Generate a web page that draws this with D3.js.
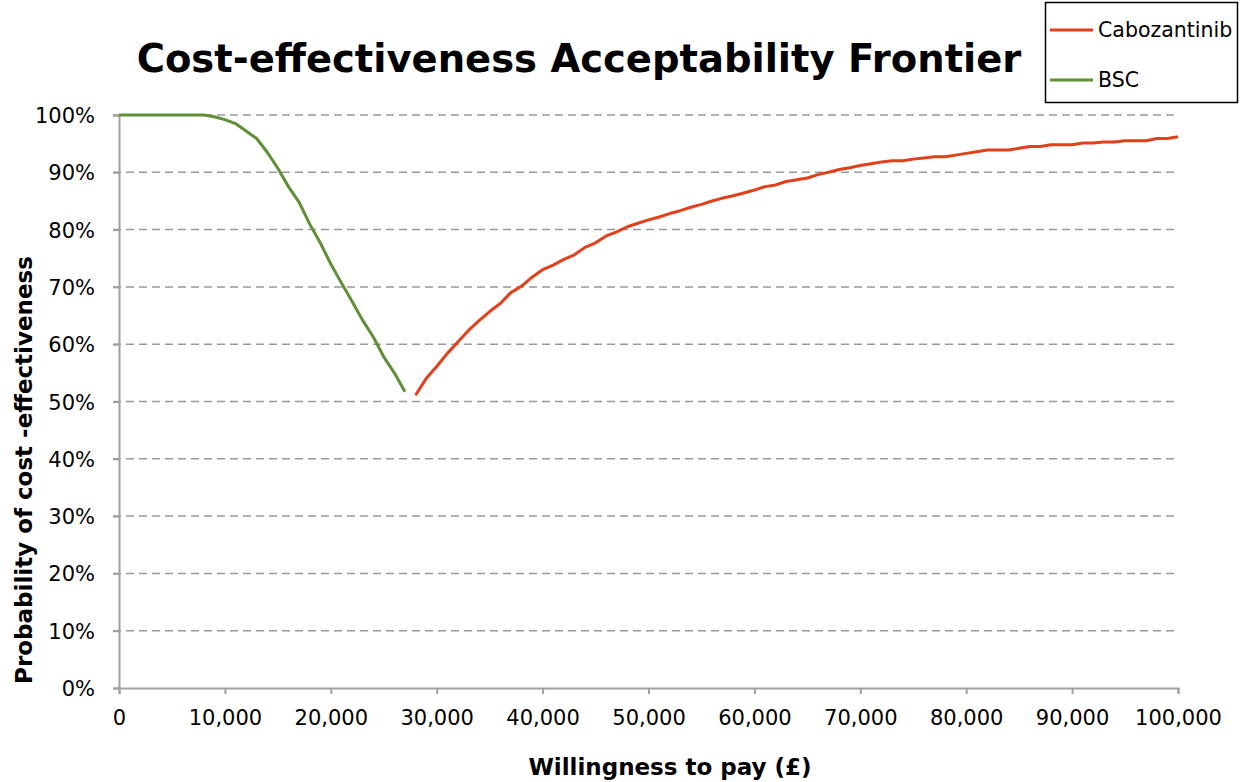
<!DOCTYPE html>
<html lang="en">
<head>
  <meta charset="utf-8"/>
  <title>CEAF</title>
  <script src="https://d3js.org/d3.v7.min.js"></script>
  <style>
    body { margin: 0; background: #fff; }
    text { font-family: "DejaVu Sans", Verdana, sans-serif; fill: #000; }
  </style>
</head>
<body>
<svg id="chart" width="1240" height="782"></svg>
<script>
// willingness to pay (thousand £) and probability (%)
const bscWtp = [0,1,2,3,4,5,6,7,8,9,10,11,12,13,14,15,16,17,18,19,20,21,22,23,24,25,26,27];
const bscProb = [100,100,100,100,100,100,100,100,100,99.7,99.2,98.5,97.2,95.9,93.5,90.7,87.5,84.8,81,77.7,74,70.7,67.5,64.2,61.3,57.8,55,51.7];

const caboWtp = d3.range(28, 101);
const caboProb = [51.1,54.0,56.1,58.4,60.4,62.4,64.1,65.7,67.1,69.0,70.1,71.7,73.0,73.8,74.8,75.6,76.9,77.7,78.9,79.6,
  80.5,81.1,81.7,82.2,82.8,83.3,83.9,84.4,85.0,85.5,85.9,86.4,86.9,87.5,87.8,88.4,88.7,89.0,89.6,90.0,
  90.5,90.8,91.2,91.5,91.8,92.0,92.0,92.3,92.5,92.7,92.7,93.0,93.3,93.6,93.9,93.9,93.9,94.2,94.5,94.5,
  94.8,94.8,94.8,95.1,95.1,95.3,95.3,95.5,95.5,95.5,95.9,95.9,96.2];

const xTicks = [0,10000,20000,30000,40000,50000,60000,70000,80000,90000,100000];
const yTicks = [0,10,20,30,40,50,60,70,80,90,100];

const series = [
  {name: "Cabozantinib", color: "#e2401a", wtp: caboWtp, prob: caboProb},
  {name: "BSC", color: "#5f8f36", wtp: bscWtp, prob: bscProb}
];

const svg = d3.select("#chart");
const plotL = 119, plotR = 1178, plotT = 115, plotB = 688;

const x = d3.scaleLinear().domain([0, 100000]).range([plotL, plotR]);
const y = d3.scaleLinear().domain([0, 100]).range([plotB, plotT]);

// gridlines
svg.append("g").selectAll("line").data(yTicks.filter(d => d > 0)).join("line")
  .attr("x1", plotL - 6).attr("x2", plotR - 4)
  .attr("y1", d => y(d)).attr("y2", d => y(d))
  .attr("stroke", "#999").attr("stroke-width", 1.5)
  .attr("stroke-dasharray", "8,5");

// axes
const xAxis = svg.append("g").attr("transform", `translate(0,${plotB})`)
  .call(d3.axisBottom(x).tickValues(xTicks).tickSize(6).tickPadding(16)
    .tickFormat(d3.format(",")));
const yAxis = svg.append("g").attr("transform", `translate(${plotL},0)`)
  .call(d3.axisLeft(y).tickValues(yTicks).tickSize(6).tickPadding(18)
    .tickFormat(d => d + "%"));
[xAxis, yAxis].forEach(a => {
  a.select(".domain").attr("stroke", "#a0a0a0").attr("stroke-width", 2);
  a.selectAll(".tick line").attr("stroke", "#a0a0a0").attr("stroke-width", 2);
  a.selectAll(".tick text").style("font-size", "21px").attr("fill", "#000");
});
yAxis.selectAll(".tick text").attr("dy", "0.36em");

// lines
const line = d3.line().x(d => x(d[0] * 1000)).y(d => y(d[1]));
series.forEach(s => {
  svg.append("path")
    .datum(d3.zip(s.wtp, s.prob))
    .attr("fill", "none")
    .attr("stroke", s.color)
    .attr("stroke-width", 3)
    .attr("stroke-linejoin", "round")
    .attr("d", line);
});

// title
svg.append("text").attr("x", 579).attr("y", 72)
  .attr("text-anchor", "middle")
  .style("font-size", "38.5px").style("font-weight", "bold")
  .text("Cost-effectiveness Acceptability Frontier");

// axis titles
svg.append("text").attr("x", 670).attr("y", 775)
  .attr("text-anchor", "middle")
  .style("font-size", "23px").style("font-weight", "bold")
  .text("Willingness to pay (£)");
svg.append("text")
  .attr("transform", "translate(32,470) rotate(-90)")
  .attr("text-anchor", "middle")
  .style("font-size", "23px").style("font-weight", "bold")
  .text("Probability of cost -effectiveness");

// legend
const lg = svg.append("g");
lg.append("rect").attr("x", 1045.5).attr("y", 2.5).attr("width", 192).attr("height", 100)
  .attr("fill", "#fff").attr("stroke", "#000").attr("stroke-width", 1.5);
series.forEach((s, i) => {
  const ly = 30 + i * 50;
  lg.append("line").attr("x1", 1050).attr("x2", 1093).attr("y1", ly).attr("y2", ly)
    .attr("stroke", s.color).attr("stroke-width", 3);
  lg.append("text").attr("x", 1098).attr("y", ly).attr("dy", "0.35em")
    .style("font-size", "20.5px").text(s.name);
});
</script>
</body>
</html>
